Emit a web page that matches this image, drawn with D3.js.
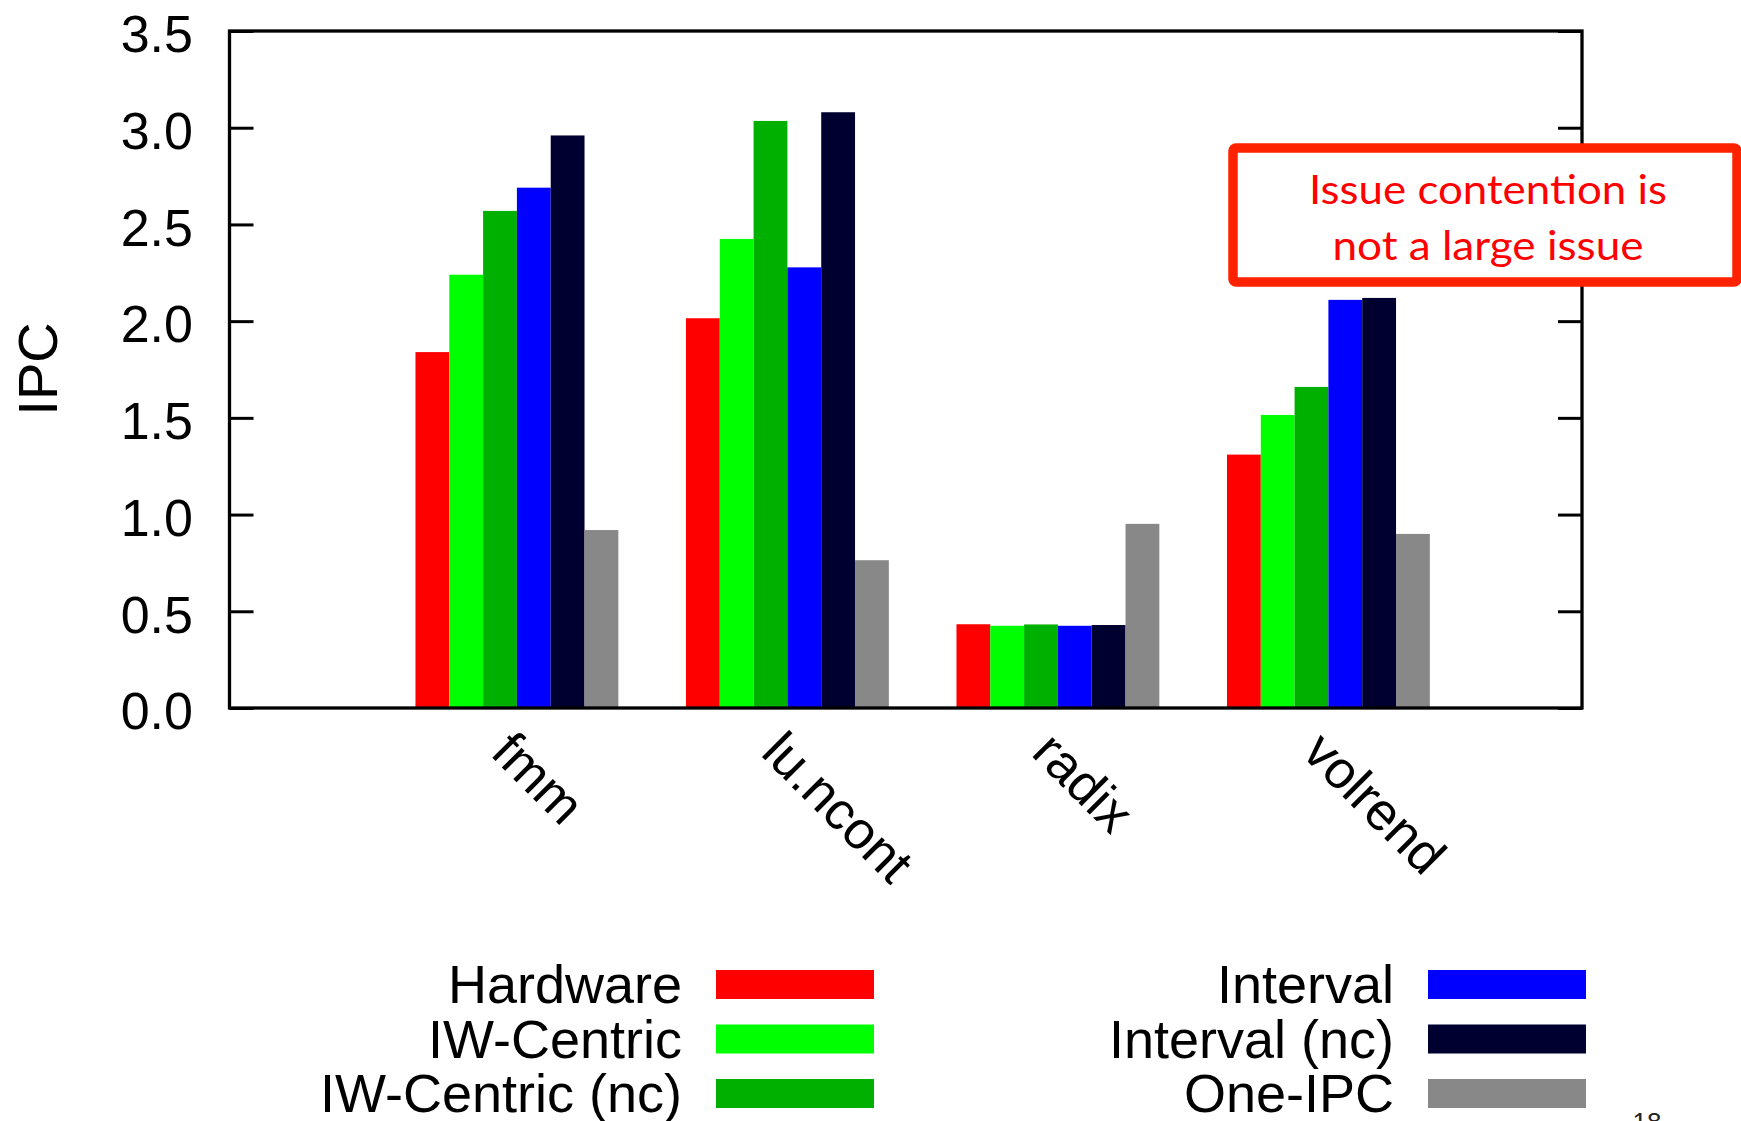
<!DOCTYPE html>
<html>
<head>
<meta charset="utf-8">
<script src="https://cdn.jsdelivr.net/npm/d3@7"></script>
<style>
  html, body { margin: 0; padding: 0; background: #fff; }
  svg { display: block; }
  text { font-family: "Liberation Sans", Arial, Helvetica, sans-serif; }
  text.note { font-family: Lato, "Open Sans", sans-serif; }
</style>
</head>
<body>
<div id="chart"></div>
<script>
// benchmark groups along x
const categories = ['fmm', 'lu.ncont', 'radix', 'volrend'];

// one value per benchmark, per model
const hardware    = [1.84, 2.015, 0.433, 1.31];
const iwCentric   = [2.24, 2.425, 0.425, 1.515];
const iwCentricNc = [2.57, 3.035, 0.432, 1.66];
const interval    = [2.69, 2.278, 0.425, 2.11];
const intervalNc  = [2.96, 3.08, 0.429, 2.12];
const oneIpc      = [0.92, 0.764, 0.952, 0.90];

const seriesNames = ['Hardware', 'IW-Centric', 'IW-Centric (nc)', 'Interval', 'Interval (nc)', 'One-IPC'];
const seriesColors = ['#ff0000', '#00ff00', '#00b000', '#0000ff', '#000030', '#888888'];
const yTicks = [0, 0.5, 1.0, 1.5, 2.0, 2.5, 3.0, 3.5];

const series = [hardware, iwCentric, iwCentricNc, interval, intervalNc, oneIpc];

const width = 1741, height = 1121;
const plotL = 229.5, plotR = 1582, plotT = 31, plotB = 708;

const svg = d3.select('#chart').append('svg')
  .attr('width', width)
  .attr('height', height);

// gnuplot style histogram: 6 bars + gap of 2 per cluster
const x = d3.scaleLinear().domain([-1, 4]).range([plotL, plotR]);
const y = d3.scaleLinear().domain([0, 3.5]).range([plotB, plotT]);
const bw = 0.125;

const rows = [];
series.forEach((vals, j) => {
  vals.forEach((v, i) => rows.push({ i, j, v }));
});

svg.append('g').selectAll('rect')
  .data(rows)
  .enter()
  .append('rect')
  .attr('x', d => x(d.i + (d.j - 2) * bw - bw / 2))
  .attr('width', x(bw) - x(0))
  .attr('y', d => y(d.v))
  .attr('height', d => y(0) - y(d.v))
  .attr('fill', d => seriesColors[d.j]);

// ticks on both sides, pointing inwards
const yl = svg.append('g')
  .attr('transform', `translate(${plotL},0)`)
  .call(d3.axisLeft(y).tickValues(yTicks).tickFormat(d3.format('.1f'))
    .tickSizeInner(-24).tickSizeOuter(0).tickPadding(36.5));
yl.select('.domain').remove();
yl.selectAll('line').attr('stroke', '#000').attr('stroke-width', 3);
yl.selectAll('text')
  .attr('dy', '0.4em')
  .style('font-size', '52px')
  .attr('fill', '#000');

const yr = svg.append('g')
  .attr('transform', `translate(${plotR},0)`)
  .call(d3.axisRight(y).tickValues(yTicks).tickFormat('')
    .tickSizeInner(-24).tickSizeOuter(0));
yr.select('.domain').remove();
yr.selectAll('line').attr('stroke', '#000').attr('stroke-width', 3);

svg.append('rect')
  .attr('x', plotL)
  .attr('y', plotT)
  .attr('width', plotR - plotL)
  .attr('height', plotB - plotT)
  .attr('fill', 'none')
  .attr('stroke', '#000')
  .attr('stroke-width', 3.3);

// rotated category labels
svg.append('g').selectAll('text')
  .data(categories)
  .enter()
  .append('text')
  .attr('transform', (d, i) => `translate(${x(i + 0.0625) - 28},754.5) rotate(45)`)
  .style('font-size', '53px')
  .attr('fill', '#000')
  .text(d => d);

svg.append('text')
  .attr('transform', 'translate(57,369) rotate(-90)')
  .attr('text-anchor', 'middle')
  .style('font-size', '56px')
  .text('IPC');

// legend: two columns of three
const legend = svg.append('g').selectAll('g')
  .data(seriesNames)
  .enter()
  .append('g')
  .attr('transform', (d, k) => {
    const col = Math.floor(k / 3), row = k % 3;
    return `translate(${col ? 1394 : 682},${970 + row * 54.5})`;
  });

legend.append('rect')
  .attr('x', 34)
  .attr('width', 158)
  .attr('height', 29)
  .attr('fill', (d, k) => seriesColors[k]);

legend.append('text')
  .attr('text-anchor', 'end')
  .attr('y', 33)
  .style('font-size', '54px')
  .text(d => d);

// callout box
svg.append('rect')
  .attr('x', 1233)
  .attr('y', 148)
  .attr('width', 504)
  .attr('height', 134)
  .attr('rx', 3)
  .attr('fill', '#fff')
  .attr('stroke', '#ff2200')
  .attr('stroke-width', 9.5);

const noteLines = ['Issue contention is', 'not a large issue'];
svg.append('g').selectAll('text')
  .data(noteLines)
  .enter()
  .append('text')
  .attr('class', 'note')
  .attr('x', 1488)
  .attr('y', (d, k) => 204 + k * 56)
  .attr('text-anchor', 'middle')
  .attr('textLength', (d, k) => k ? 311 : 358)
  .attr('lengthAdjust', 'spacingAndGlyphs')
  .style('font-size', '41px')
  .attr('fill', '#ff0000')
  .text(d => d);

svg.append('text')
  .attr('x', 1647)
  .attr('y', 1131)
  .attr('text-anchor', 'middle')
  .style('font-size', '26px')
  .attr('fill', '#222')
  .text('18');
</script>
</body>
</html>
